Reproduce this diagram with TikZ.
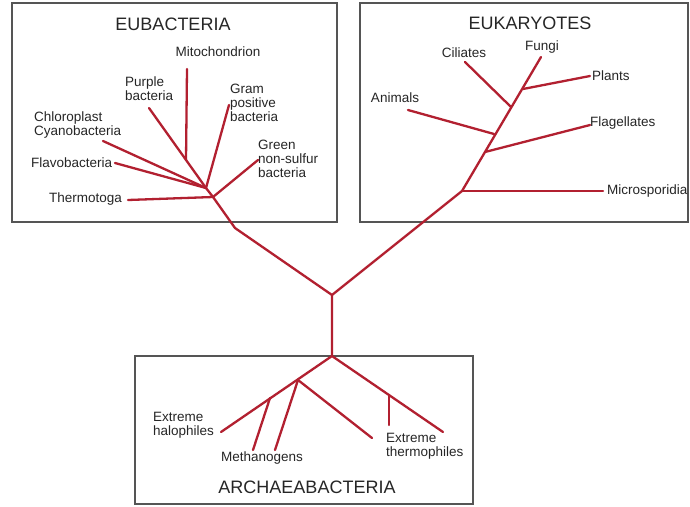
\documentclass[tikz,border=0pt]{standalone}
\usepackage{fontspec}
\setmainfont{Liberation Sans}
\definecolor{treered}{RGB}{178,32,48}
\definecolor{panelgray}{RGB}{85,85,85}
\begin{document}
\begin{tikzpicture}[x=1pt,y=-1pt,
  branch/.style={draw=treered, line width=2.3pt, line cap=round, line join=round},
  panel/.style={draw=panelgray, line width=1.3pt},
  lbl/.style={font=\fontsize{13.5}{14}\selectfont, inner sep=0pt, text=black!85},
  title/.style={font=\fontsize{18}{20}\selectfont, inner sep=0pt, text=black!85}]
\useasboundingbox[fill=white] (0,0) rectangle (690,506);

% panels
\draw[panel] (12,3) rectangle (337,222);
\draw[panel] (360,3) rectangle (688,222);
\draw[panel] (135,356) rectangle (473,504);

% titles
\node[title] (teub) at (173,24) {EUBACTERIA};
\node[title] (teuk) at (530,23) {EUKARYOTES};
\node[title] (tarc) at (307,487) {ARCHAEABACTERIA};

% key points
\coordinate (root) at (332,295);
\coordinate (aj) at (332,356);
\coordinate (ebend) at (235,228);
\coordinate (eh1) at (213,197);
\coordinate (eh2) at (206,188);
\coordinate (emit) at (186,160);
\coordinate (mj) at (462,191);
\coordinate (kfl) at (485,152);
\coordinate (kan) at (494,134);
\coordinate (kci) at (511,107);
\coordinate (kpl) at (523,89);
\coordinate (ahub) at (298,380);
\coordinate (am1) at (270,398);
\coordinate (atj) at (389,395);

% tips
\coordinate (tthermo) at (128,200);
\coordinate (tgreen) at (258,160);
\coordinate (tflavo) at (115,163);
\coordinate (tchloro) at (103,141);
\coordinate (tpurple) at (149,108);
\coordinate (tgram) at (229,105);
\coordinate (tmito) at (187,69);
\coordinate (tfungi) at (541,57);
\coordinate (tmicro) at (603,191);
\coordinate (tflag) at (590,125);
\coordinate (tanim) at (408,110);
\coordinate (tcil) at (465,62);
\coordinate (tplant) at (590,76);
\coordinate (thalo) at (221,432);
\coordinate (tmeth1) at (253,450);
\coordinate (tmeth2) at (275,450);
\coordinate (tmid) at (372,438);
\coordinate (tther) at (443,432);
\coordinate (tther2) at (389,425);

% Eubacteria branches
\draw[branch] (aj) -- (root) -- (ebend) -- (eh1) -- (eh2);
\draw[branch] (eh1) -- (tthermo);
\draw[branch] (eh1) -- (tgreen);
\draw[branch] (eh2) -- (tflavo);
\draw[branch] (eh2) -- (tchloro);
\draw[branch] (eh2) -- (tpurple);
\draw[branch] (eh2) -- (tgram);
\draw[branch] (emit) -- (tmito);

% Eukaryote branches
\draw[branch] (root) -- (mj) -- (tfungi);
\draw[branch] (mj) -- (tmicro);
\draw[branch] (kfl) -- (tflag);
\draw[branch] (kan) -- (tanim);
\draw[branch] (kci) -- (tcil);
\draw[branch] (kpl) -- (tplant);

% Archaea branches
\draw[branch] (aj) -- (thalo);
\draw[branch] (am1) -- (tmeth1);
\draw[branch] (ahub) -- (tmeth2);
\draw[branch] (ahub) -- (tmid);
\draw[branch] (aj) -- (tther);
\draw[branch] (atj) -- (tther2);

% Eubacteria labels
\node[lbl] (lmito) at (218,52) {Mitochondrion};
\node[lbl, align=left, anchor=north west] (lpurple) at (125,77) {Purple\\bacteria};
\node[lbl, align=left, anchor=north west] (lgram) at (230,84) {Gram\\positive\\bacteria};
\node[lbl, align=left, anchor=north west] (lchloro) at (34,112) {Chloroplast\\Cyanobacteria};
\node[lbl, anchor=west] (lflavo) at (31,163) {Flavobacteria};
\node[lbl, anchor=west] (lthermo) at (49,199) {Thermotoga};
\node[lbl, align=left, anchor=north west] (lgreen) at (258,140) {Green\\non-sulfur\\bacteria};

% Eukaryote labels
\node[lbl] (lcil) at (464,53) {Ciliates};
\node[lbl] (lfungi) at (542,47) {Fungi};
\node[lbl, anchor=west] (lplant) at (592,76) {Plants};
\node[lbl] (lanim) at (395,98) {Animals};
\node[lbl, anchor=west] (lflag) at (590,123) {Flagellates};
\node[lbl, anchor=west] (lmicro) at (607,191) {Microsporidia};

% Archaea labels
\node[lbl, align=left, anchor=north west] (lhalo) at (153,412) {Extreme\\halophiles};
\node[lbl] (lmeth) at (262,458) {Methanogens};
\node[lbl, align=left, anchor=north west] (lther) at (386,433) {Extreme\\thermophiles};
\end{tikzpicture}
\end{document}
